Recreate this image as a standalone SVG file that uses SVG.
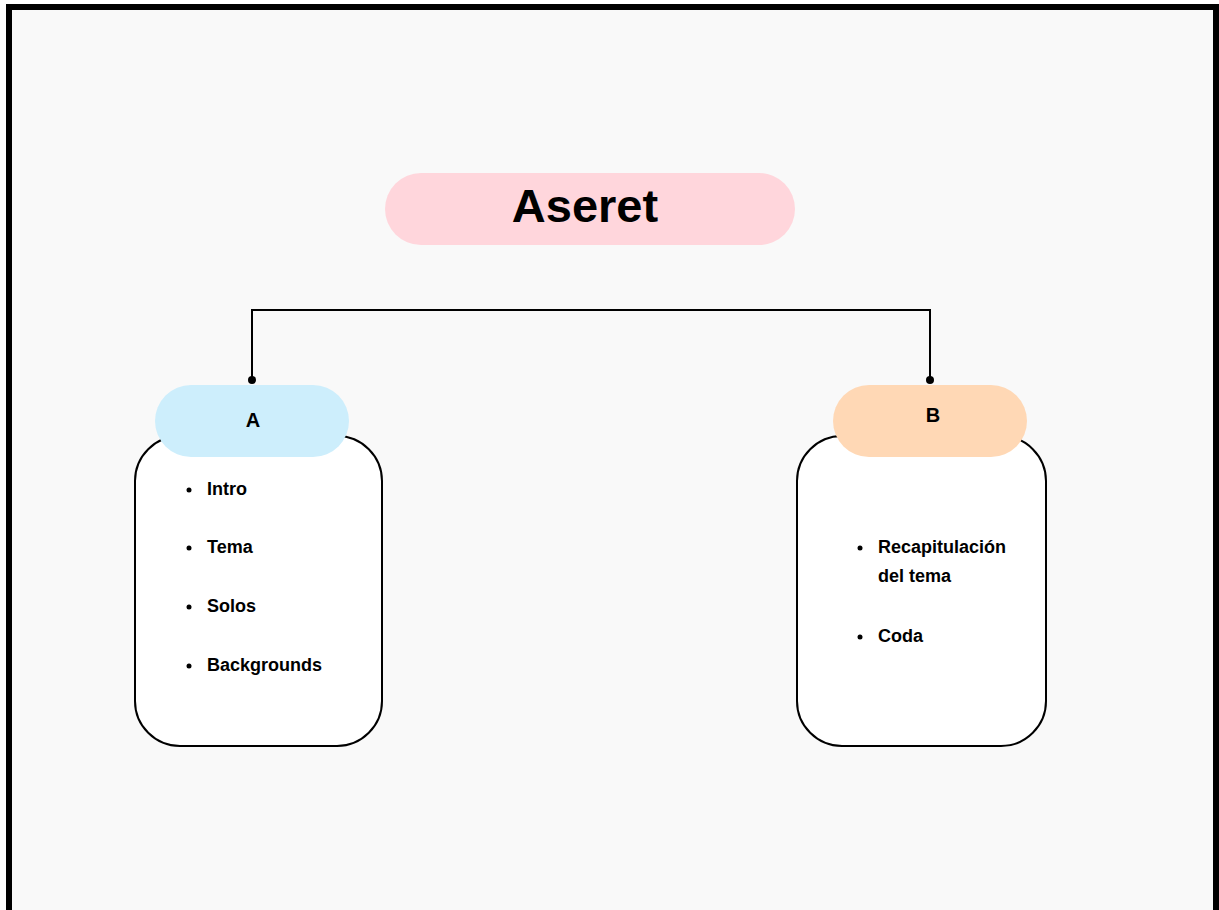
<svg xmlns="http://www.w3.org/2000/svg" width="1219" height="910" viewBox="0 0 1219 910">
  <style>
    .frame { fill: #f9f9f9; stroke: #000; stroke-width: 6; }
    .pill-label { font-family: "Liberation Sans", Arial, sans-serif; font-weight: bold; fill: #000; text-anchor: middle; }
    .card { fill: #fff; stroke: #000; stroke-width: 2; }
    .item { font-family: "Liberation Sans", Arial, sans-serif; font-weight: bold; font-size: 18px; fill: #000; }
    .wire { fill: none; stroke: #000; stroke-width: 2; }
  </style>

  <rect width="1219" height="910" fill="#fff"/>
  <rect class="frame" x="9" y="7" width="1207" height="920"/>

  <!-- title -->
  <g id="title">
    <rect x="385" y="173" width="410" height="72" rx="36" fill="#ffd6dc"/>
    <text class="pill-label" x="585" y="222" font-size="47">Aseret</text>
  </g>

  <!-- connectors -->
  <g id="connectors">
    <path class="wire" d="M252 380 L252 310 L930 310 L930 380"/>
    <circle cx="252" cy="380" r="4"/>
    <circle cx="930" cy="380" r="4"/>
  </g>

  <!-- section A -->
  <g id="section-a">
    <rect class="card" x="135" y="436" width="247" height="310" rx="45"/>
    <rect x="155" y="385" width="194" height="72" rx="36" fill="#cdeefc"/>
    <text class="pill-label" x="253" y="427" font-size="20">A</text>
    <circle cx="189" cy="490" r="2.5"/>
    <text class="item" x="207" y="495">Intro</text>
    <circle cx="189" cy="548" r="2.5"/>
    <text class="item" x="207" y="553">Tema</text>
    <circle cx="189" cy="607" r="2.5"/>
    <text class="item" x="207" y="612">Solos</text>
    <circle cx="189" cy="666" r="2.5"/>
    <text class="item" x="207" y="671">Backgrounds</text>
  </g>

  <!-- section B -->
  <g id="section-b">
    <rect class="card" x="797" y="436" width="249" height="310" rx="45"/>
    <rect x="833" y="385" width="194" height="72" rx="36" fill="#ffd8b5"/>
    <text class="pill-label" x="933" y="422" font-size="20">B</text>
    <circle cx="860" cy="548" r="2.5"/>
    <text class="item" x="878" y="553">Recapitulación</text>
    <text class="item" x="878" y="582">del tema</text>
    <circle cx="860" cy="637" r="2.5"/>
    <text class="item" x="878" y="642">Coda</text>
  </g>
</svg>
